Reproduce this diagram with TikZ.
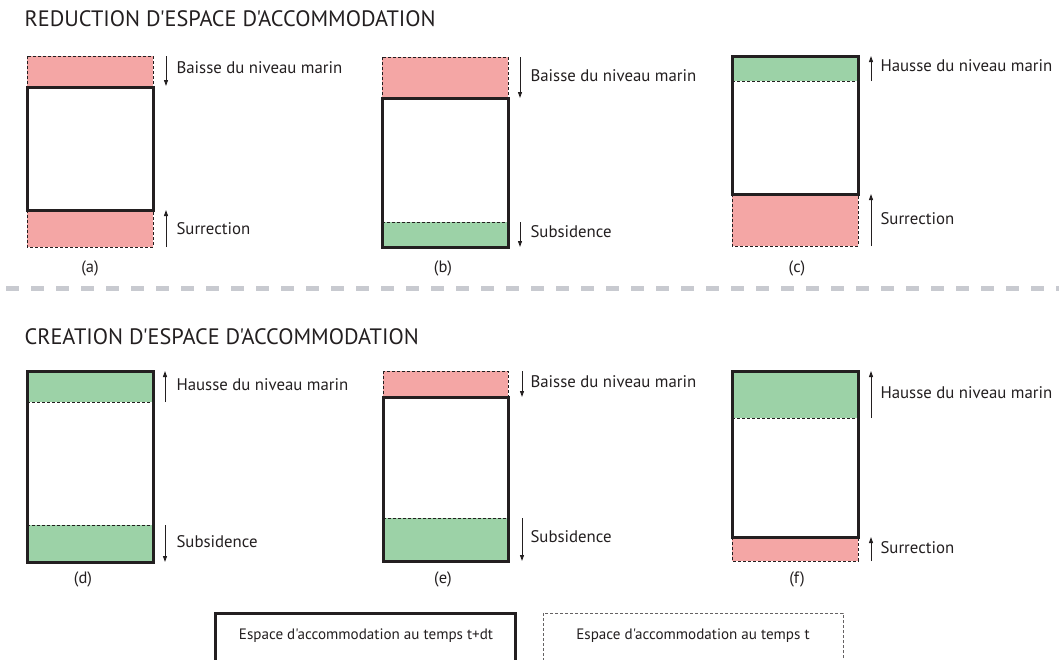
\documentclass[tikz,border=0pt]{standalone}
\usepackage{fontspec}
\setmainfont{PT Sans}[Ligatures=TeXOff]
\usetikzlibrary{arrows.meta}

\definecolor{rose}{HTML}{F4A6A5}
\definecolor{vert}{HTML}{9CD2A7}
\definecolor{encre}{HTML}{231F20}
\definecolor{tiret}{HTML}{C8CAD0}

\tikzset{
    espace/.style={draw=encre, line width=3pt},
    avant/.style={draw=encre, line width=0.8pt, dash pattern=on 3pt off 2pt},
    fleche/.style={draw=encre, line width=1pt, -{Triangle[length=6pt,width=4pt]}},
    legende/.style={anchor=west, text=encre, font=\fontsize{16.8}{19}\selectfont},
    titre/.style={anchor=west, text=encre, font=\fontsize{22.3}{25}\selectfont},
    lettre/.style={text=encre, font=\fontsize{16.5}{19}\selectfont}
}

\begin{document}
\begin{tikzpicture}[x=1pt, y=-1pt]
            \useasboundingbox (0, 0) rectangle (1059, 659);
            %\draw[lightgray] (0, 0) grid (1059, 659);
            \node[titre] (titreA) at (21, 19) {REDUCTION D'ESPACE D'ACCOMMODATION};
            \node[titre] (titreB) at (21, 337) {CREATION D'ESPACE D'ACCOMMODATION};
            \draw[tiret, line width=5pt, dash pattern=on 13pt off 12pt] (6, 288) -- (1059, 288);

            % (a)
            \draw[avant, fill=rose] (27, 56) rectangle (153, 87);
            \draw[avant, fill=rose] (27, 210) rectangle (153, 247);
            \draw[espace] (27, 87) rectangle (153, 210);
            \draw[fleche] (166, 56) -- (166, 86);
            \draw[fleche] (166, 247) -- (166, 210);
            \node[legende] (a1) at (173, 68) {Baisse du niveau marin};
            \node[legende] (a2) at (173, 229) {Surrection};
            \node[lettre] (a) at (90, 268) {(a)};

            % (b)
            \draw[avant, fill=rose] (382, 57) rectangle (508, 98);
            \fill[vert] (382, 222) rectangle (508, 247);
            \draw[avant] (382, 222) -- (508, 222);
            \draw[espace] (382, 98) rectangle (508, 247);
            \draw[fleche] (520, 57) -- (520, 98);
            \draw[fleche] (520, 222) -- (520, 247);
            \node[legende] (b1) at (527, 76) {Baisse du niveau marin};
            \node[legende] (b2) at (527, 232) {Subsidence};
            \node[lettre] (b) at (443, 268) {(b)};

            % (c)
            \fill[vert] (732, 56) rectangle (858, 81);
            \draw[avant] (732, 81) -- (858, 81);
            \draw[avant, fill=rose] (732, 194) rectangle (858, 246);
            \draw[espace] (732, 56) rectangle (858, 194);
            \draw[fleche] (871, 81) -- (871, 56);
            \draw[fleche] (871, 246) -- (871, 194);
            \node[legende] (c1) at (877, 66) {Hausse du niveau marin};
            \node[legende] (c2) at (877, 219) {Surrection};
            \node[lettre] (c) at (797, 268) {(c)};

            % (d)
            \fill[vert] (27, 371) rectangle (153, 402);
            \fill[vert] (27, 525) rectangle (153, 562);
            \draw[avant] (27, 402) -- (153, 402);
            \draw[avant] (27, 525) -- (153, 525);
            \draw[espace] (27, 371) rectangle (153, 562);
            \draw[fleche] (165, 402) -- (165, 371);
            \draw[fleche] (165, 525) -- (165, 562);
            \node[legende] (d1) at (173, 385) {Hausse du niveau marin};
            \node[legende] (d2) at (173, 542) {Subsidence};
            \node[lettre] (d) at (83, 579) {(d)};

            % (e)
            \draw[avant, fill=rose] (383, 371) rectangle (508, 397);
            \fill[vert] (383, 518) rectangle (508, 561);
            \draw[avant] (383, 518) -- (508, 518);
            \draw[espace] (383, 397) rectangle (508, 561);
            \draw[fleche] (522, 371) -- (522, 397);
            \draw[fleche] (522, 518) -- (522, 561);
            \node[legende] (e1) at (527, 382) {Baisse du niveau marin};
            \node[legende] (e2) at (527, 537) {Subsidence};
            \node[lettre] (e) at (443, 579) {(e)};

            % (f)
            \fill[vert] (732, 371) rectangle (858, 418);
            \draw[avant] (732, 418) -- (858, 418);
            \draw[avant, fill=rose] (732, 537) rectangle (858, 561);
            \draw[espace] (732, 371) rectangle (858, 537);
            \draw[fleche] (871, 418) -- (871, 371);
            \draw[fleche] (871, 561) -- (871, 537);
            \node[legende] (f1) at (877, 393) {Hausse du niveau marin};
            \node[legende] (f2) at (877, 548) {Surrection};
            \node[lettre] (f) at (797, 579) {(f)};

            % legende
            \draw[espace] (215, 613) rectangle (515, 663);
            \node[lettre, font=\fontsize{15.1}{18}\selectfont] (tdt) at (366, 636) {Espace d'accommodation au temps t+dt};
            \draw[draw=encre!70, line width=0.8pt, dash pattern=on 3pt off 2pt] (543, 613) rectangle (843, 663);
            \node[lettre, font=\fontsize{15.1}{18}\selectfont] (t) at (693, 636) {Espace d'accommodation au temps t};
        \end{tikzpicture}
\end{document}
